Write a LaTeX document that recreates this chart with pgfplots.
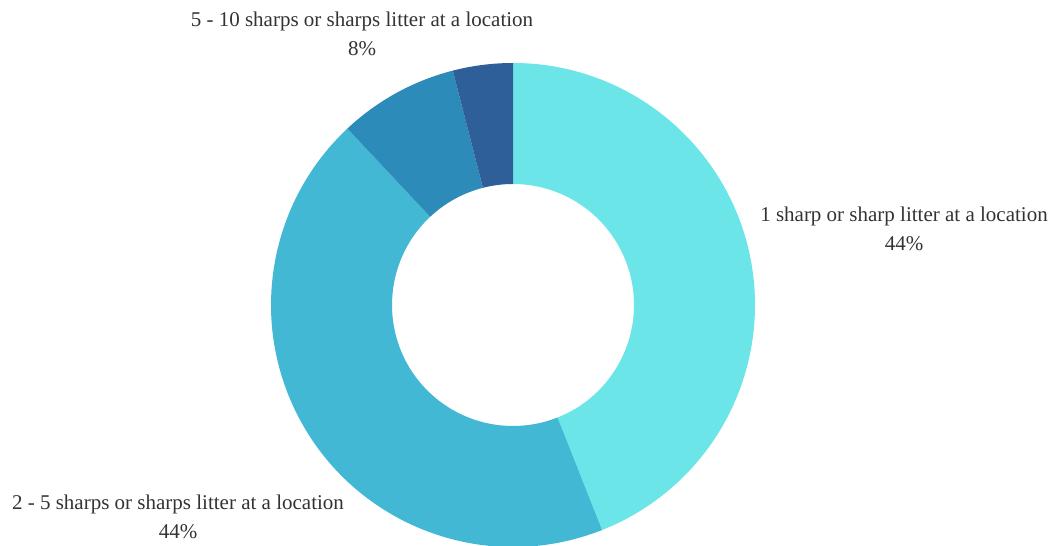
\documentclass[border=0pt]{standalone}
\usepackage{pgfplots}
\usepackage{pgfplotstable}
\pgfplotsset{compat=1.18}
\usepackage{fontspec}
\setmainfont{Liberation Serif}
\definecolor{sA}{HTML}{6CE5E8}
\definecolor{sB}{HTML}{42B8D5}
\definecolor{sC}{HTML}{2D8BB9}
\definecolor{sD}{HTML}{2E5F99}
\definecolor{txt}{HTML}{333333}
\pgfplotstableread{
value
44
44
8
4
}\donutdata
\pgfplotstablegetelem{0}{value}\of\donutdata \let\vA\pgfplotsretval
\pgfplotstablegetelem{1}{value}\of\donutdata \let\vB\pgfplotsretval
\pgfplotstablegetelem{2}{value}\of\donutdata \let\vC\pgfplotsretval
\pgfplotstablegetelem{3}{value}\of\donutdata \let\vD\pgfplotsretval
\pgfmathsetmacro\tot{\vA+\vB+\vC+\vD}
\pgfmathsetmacro\aO{90}
\pgfmathsetmacro\aA{\aO-360*\vA/\tot}
\pgfmathsetmacro\aB{\aA-360*\vB/\tot}
\pgfmathsetmacro\aC{\aB-360*\vC/\tot}
\pgfmathsetmacro\aD{\aC-360*\vD/\tot}
\newcommand\slice[3]{%
  \fill[#3] ([shift={(#1:242pt)}]axis cs:513,241) arc[start angle=#1,end angle=#2,radius=242pt]
    -- ([shift={(#2:121pt)}]axis cs:513,241) arc[start angle=#2,end angle=#1,radius=121pt] -- cycle;}
\begin{document}
\begin{tikzpicture}
\begin{axis}[hide axis, x=1pt, y=1pt, xmin=0, xmax=1053, ymin=0, ymax=546,
  scale only axis, clip=false, anchor=south west, at={(0pt,0pt)}]
\addplot[draw=none] coordinates {(0,0) (1053,546)};
\slice{\aO}{\aA}{sA}
\slice{\aA}{\aB}{sB}
\slice{\aB}{\aC}{sC}
\slice{\aC}{\aD}{sD}
\node[align=center, text=txt, font=\fontsize{21}{29}\selectfont] at (axis cs:362,512) {5 - 10 sharps or sharps litter at a location\\8\%};
\node[align=center, text=txt, font=\fontsize{21}{29}\selectfont] at (axis cs:904,317) {1 sharp or sharp litter at a location\\44\%};
\node[align=center, text=txt, font=\fontsize{21}{29}\selectfont] at (axis cs:178,29) {2 - 5 sharps or sharps litter at a location\\44\%};
\end{axis}
\pgfresetboundingbox
\path (0pt,0pt) rectangle (1053pt,546pt);
\end{tikzpicture}
\end{document}
